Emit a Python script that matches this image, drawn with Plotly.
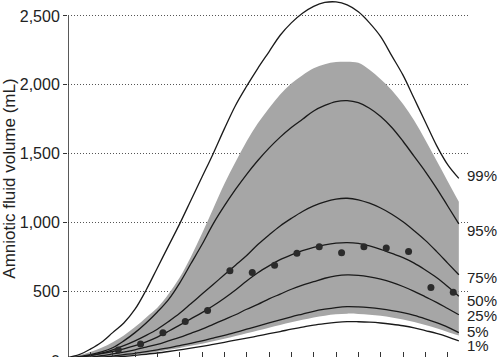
import plotly.graph_objects as go

weeks = list(range(8, 44))

p99 = [20, 40, 80, 130, 200, 270, 370, 510, 670, 830, 990, 1160, 1330, 1500, 1680, 1850, 1990, 2120, 2240, 2360,
       2450, 2520, 2570, 2598, 2602, 2580, 2530, 2450, 2350, 2210, 2070, 1900, 1730, 1560, 1420, 1320]
p95 = [15, 25, 40, 60, 90, 140, 200, 270, 350, 440, 560, 700, 840, 990, 1120, 1240, 1350, 1450, 1540, 1620,
       1690, 1750, 1810, 1850, 1878, 1885, 1870, 1830, 1770, 1690, 1590, 1480, 1370, 1250, 1120, 990]
p75 = [12, 22, 35, 52, 75, 105, 140, 180, 225, 280, 340, 410, 480, 550, 620, 690, 760, 840, 910, 975,
       1030, 1080, 1120, 1150, 1170, 1176, 1165, 1140, 1105, 1060, 1005, 940, 870, 790, 705, 620]
p50 = [15, 22, 33, 47, 63, 82, 105, 133, 168, 210, 255, 300, 345, 395, 450, 510, 575, 635, 685, 730,
       765, 795, 820, 838, 850, 854, 848, 830, 805, 775, 745, 705, 655, 600, 535, 465]
p25 = [8, 14, 22, 32, 45, 58, 75, 95, 115, 140, 165, 195, 225, 260, 295, 330, 370, 405, 445, 480,
       515, 545, 570, 595, 612, 619, 616, 605, 588, 565, 535, 500, 460, 420, 375, 330]
p5 = [5, 10, 15, 22, 30, 40, 50, 62, 75, 90, 105, 122, 140, 160, 180, 202, 225, 248, 270, 292,
      315, 335, 355, 370, 382, 389, 387, 381, 372, 360, 345, 325, 300, 272, 240, 200]
p1 = [3, 6, 10, 15, 20, 27, 35, 43, 52, 63, 75, 87, 100, 115, 130, 145, 160, 176, 192, 208,
      225, 240, 255, 266, 275, 280, 279, 276, 270, 261, 250, 235, 215, 195, 170, 140]
band_upper = [20, 35, 60, 90, 130, 180, 240, 310, 380, 480, 600, 750, 920, 1100, 1280, 1440, 1590, 1720, 1830, 1930,
              2010, 2070, 2120, 2150, 2165, 2168, 2160, 2110, 2040, 1960, 1860, 1740, 1600, 1450, 1300, 1150]
band_lower = [3, 6, 10, 15, 22, 30, 40, 50, 62, 75, 88, 104, 120, 137, 155, 175, 195, 215, 235, 255,
              275, 293, 310, 323, 333, 338, 336, 330, 322, 310, 295, 277, 255, 232, 205, 180]

dot_weeks = [12.5, 14.5, 16.5, 18.5, 20.5, 22.5, 24.5, 26.5, 28.5, 30.5, 32.5, 34.5, 36.5, 38.5, 40.5, 42.5]
dot_vals = [74, 117, 200, 280, 360, 650, 636, 690, 776, 824, 780, 824, 815, 790, 527, 493]

pct_labels = ["99%", "95%", "75%", "50%", "25%", "5%", "1%"]
label_y = [1338, 939, 604, 437, 328, 205, 110]

y_ticks = [500, 1000, 1500, 2000, 2500]
y_ticktext = ["500", "1,000", "1,500", "2,000", "2,500"]
x_ticks = list(range(8, 46, 2))

FONT = "Liberation Sans, Arial, sans-serif"

fig = go.Figure()

fig.add_trace(go.Scatter(x=weeks, y=band_lower, mode="lines", line=dict(width=0, shape="spline"),
                         showlegend=False, hoverinfo="skip"))
fig.add_trace(go.Scatter(x=weeks, y=band_upper, mode="lines", line=dict(width=0, shape="spline"),
                         fill="tonexty", fillcolor="rgb(166,166,166)", showlegend=False, hoverinfo="skip"))

for series in [p99, p95, p75, p50, p25, p5, p1]:
    fig.add_trace(go.Scatter(x=weeks, y=series, mode="lines",
                             line=dict(color="#1a1a1a", width=1.3, shape="spline"),
                             showlegend=False))

fig.add_trace(go.Scatter(x=dot_weeks, y=dot_vals, mode="markers",
                         marker=dict(color="#2b2b2b", size=7), showlegend=False))

for t, yv in zip(pct_labels, label_y):
    fig.add_annotation(x=43.55, y=yv, xref="x", yref="y", text=t, showarrow=False,
                       xanchor="left", yanchor="middle",
                       font=dict(family=FONT, size=15, color="#222"))

fig.add_annotation(x=0, y=0, xref="paper", yref="paper", text="0", showarrow=False,
                   xanchor="right", yanchor="middle", xshift=-6, yshift=-4,
                   font=dict(family=FONT, size=16, color="#222"))

fig.add_shape(type="line", xref="x", yref="y", x0=8, x1=8, y0=-50, y1=2500,
              line=dict(color="#222", width=1.5))

fig.update_layout(
    width=500, height=357,
    margin=dict(l=68, r=30, t=0, b=0),
    paper_bgcolor="white", plot_bgcolor="white",
    font=dict(family=FONT, size=16, color="#222"),
    xaxis=dict(range=[8, 44], tickvals=x_ticks, showticklabels=False, ticks="inside",
               ticklen=5, tickcolor="#333", showgrid=False, zeroline=False, showline=False),
    yaxis=dict(range=[23, 2616], tickvals=y_ticks, ticktext=y_ticktext, ticks="outside",
               ticklen=4, tickcolor="#333", showgrid=True, gridcolor="#555", griddash="1px,2px",
               gridwidth=1, zeroline=False, showline=False,
               title=dict(text="Amniotic fluid volume (mL)", standoff=5,
                          font=dict(size=17))),
)

fig.write_html("out.html")
